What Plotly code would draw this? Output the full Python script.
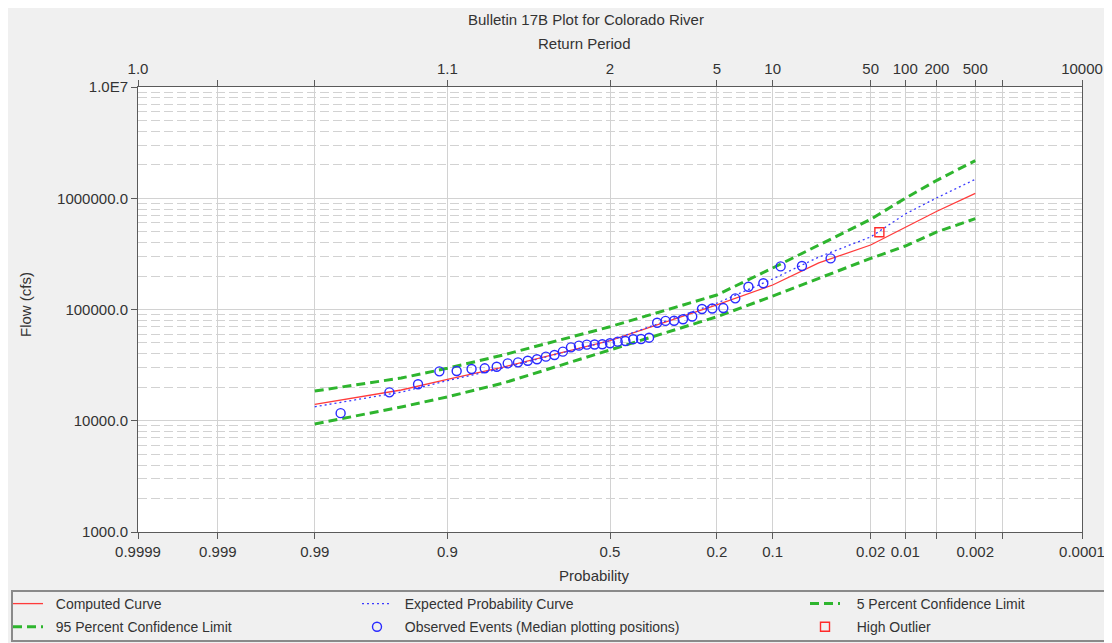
import plotly.graph_objects as go
from statistics import NormalDist

# ---------------- data ----------------
curve_prob = [0.99, 0.95, 0.9, 0.8, 0.5, 0.2, 0.1, 0.05, 0.02, 0.01, 0.005, 0.002]
computed_flow = [14060, 18900, 23600, 30400, 52500, 110000, 166000, 262000, 380000, 548000, 764000, 1107000]
expected_flow = [13360, 18100, 22900, 29800, 52500, 114000, 188000, 296000, 449000, 721000, 1010000, 1480000]
conf5_flow = [18500, 24200, 29600, 39000, 70000, 135000, 236000, 380000, 647000, 1000000, 1450000, 2180000]
conf95_flow = [9350, 13300, 16400, 21800, 43300, 86000, 132000, 192000, 288000, 372000, 498000, 655000]

obs_prob = [0.0411, 0.0652, 0.0894, 0.1135, 0.1377, 0.1618, 0.1860, 0.2101, 0.2343, 0.2585,
            0.2826, 0.3068, 0.3309, 0.3551, 0.3792, 0.4034, 0.4275, 0.4517, 0.4758, 0.5000,
            0.5242, 0.5483, 0.5725, 0.5966, 0.6208, 0.6449, 0.6691, 0.6932, 0.7174, 0.7415,
            0.7657, 0.7899, 0.8140, 0.8382, 0.8623, 0.8865, 0.9106, 0.9348, 0.9589, 0.9831]
obs_flow = [288000, 246000, 244000, 172000, 160000, 126000, 103000, 102000, 101000, 86500,
            81700, 79300, 79000, 76100, 55800, 54300, 54100, 52100, 51400, 49700,
            48700, 48500, 48300, 47300, 45700, 41800, 39000, 37700, 35700, 34600,
            33500, 32800, 30600, 29600, 29200, 28000, 27800, 21300, 18000, 11700]

outlier_prob = [0.0169]
outlier_flow = [495000]

xtick_prob = [0.9999, 0.999, 0.99, 0.9, 0.5, 0.2, 0.1, 0.02, 0.01, 0.005, 0.002, 0.001, 0.0001]
xtick_bottom = ["0.9999", "0.999", "0.99", "0.9", "0.5", "0.2", "0.1", "0.02", "0.01", "", "0.002", "", "0.0001"]
xtick_top = ["1.0", "", "", "1.1", "2", "5", "10", "50", "100", "200", "500", "", "10000"]

ytick_vals = [1e3, 1e4, 1e5, 1e6, 1e7]
ytick_text = ["1000.0", "10000.0", "100000.0", "1000000.0", "1.0E7"]
ytick_minor = [k * 10 ** d for d in range(3, 7) for k in range(2, 10)]

# ---------------- helpers ----------------
nd = NormalDist()


def zpos(p):
    return nd.inv_cdf(1 - p)


OFF = 8                      # page body margin in the browser
W, H = 1112 - OFF, 643 - OFF
L, R, T, B = 138 - OFF, 1082 - OFF, 87 - OFF, 532 - OFF


def PX(px):                  # screen x -> paper x
    return (px - OFF - L) / (R - L)


def PY(py):                  # screen y -> paper y
    return (B - (py - OFF)) / (B - T)


FONT = "Liberation Sans, Arial, sans-serif"
TXT = "#333333"
GRID = "#d2d2d2"
AXIS = "#5a5a5a"
GREEN = "#2eb52e"
NB = "\u00a0"

fig = go.Figure()

fig.add_trace(go.Scatter(x=[zpos(p) for p in curve_prob], y=computed_flow, mode="lines",
                         name=NB * 2 + "Computed Curve", line=dict(color="#ff3b3b", width=1.3),
                         legend="legend", legendgroup="a"))
fig.add_trace(go.Scatter(x=[zpos(p) for p in curve_prob], y=expected_flow, mode="lines",
                         name=NB * 2 + "Expected Probability Curve",
                         line=dict(color="#3a3aff", width=1.3, dash="2px,3px"),
                         legend="legend2", legendgroup="b"))
fig.add_trace(go.Scatter(x=[zpos(p) for p in curve_prob], y=conf5_flow, mode="lines",
                         name=NB * 3 + "5 Percent Confidence Limit",
                         line=dict(color=GREEN, width=3, dash="9px,5px"),
                         legend="legend3", legendgroup="c"))
fig.add_trace(go.Scatter(x=[zpos(p) for p in curve_prob], y=conf95_flow, mode="lines",
                         name=NB * 2 + "95 Percent Confidence Limit",
                         line=dict(color=GREEN, width=3, dash="9px,5px"),
                         legend="legend", legendgroup="d"))
fig.add_trace(go.Scatter(x=[zpos(p) for p in obs_prob], y=obs_flow, mode="markers",
                         name=NB * 2 + "Observed Events (Median plotting positions)",
                         marker=dict(symbol="circle-open", size=9, color="#2a2aff",
                                     line=dict(width=1.4)),
                         legend="legend2", legendgroup="e"))
fig.add_trace(go.Scatter(x=[zpos(p) for p in outlier_prob], y=outlier_flow, mode="markers",
                         name=NB * 3 + "High Outlier",
                         marker=dict(symbol="square-open", size=9, color="#ff2a2a",
                                     line=dict(width=1.4)),
                         legend="legend3", legendgroup="f"))
# invisible trace so the top (return period) axis is drawn
fig.add_trace(go.Scatter(x=[zpos(0.5)], y=[1e5], xaxis="x2", mode="markers",
                         marker=dict(opacity=0), showlegend=False, hoverinfo="skip"))

xr = [zpos(0.9999), zpos(0.0001)]
tickx = [zpos(p) for p in xtick_prob]


def leg(px):
    return dict(x=PX(px), y=PY(643), xanchor="left", yanchor="bottom",
                bgcolor="rgba(0,0,0,0)", borderwidth=0, tracegroupgap=2,
                font=dict(size=14, color=TXT, family=FONT))


fig.update_layout(
    width=W, height=H, autosize=False,
    margin=dict(l=L, r=W - R, t=T, b=H - B, pad=0, autoexpand=False),
    paper_bgcolor="#f0f0f0", plot_bgcolor="white",
    font=dict(family=FONT, size=15, color=TXT),
    xaxis=dict(range=xr, tickmode="array", tickvals=tickx, ticktext=xtick_bottom,
               showgrid=True, gridcolor=GRID, gridwidth=1, zeroline=False,
               showline=True, linecolor=AXIS, linewidth=1, mirror=True,
               ticks="outside", ticklen=6, tickcolor=AXIS, tickwidth=1,
               tickfont=dict(size=15, color=TXT, family=FONT)),
    xaxis2=dict(range=xr, overlaying="x", side="top", tickmode="array", tickvals=tickx,
                ticktext=xtick_top, showgrid=False, zeroline=False, showline=False,
                ticks="outside", ticklen=6, tickcolor=AXIS, tickwidth=1,
                tickfont=dict(size=15, color=TXT, family=FONT)),
    yaxis=dict(type="log", range=[3, 7], tickmode="array", tickvals=ytick_vals,
               ticktext=ytick_text, showgrid=True, gridcolor=GRID, gridwidth=1,
               zeroline=False, showline=True, linecolor=AXIS, linewidth=1, mirror=True,
               ticks="outside", ticklen=6, tickcolor=AXIS, tickwidth=1,
               tickfont=dict(size=15, color=TXT, family=FONT),
               minor=dict(tickmode="array", tickvals=ytick_minor, showgrid=True,
                          gridcolor=GRID, gridwidth=1, griddash="9px,4px", ticks="")),
    legend=leg(8),
    legend2=leg(357),
    legend3=leg(805),
    showlegend=True,
)

fig.add_shape(type="rect", xref="paper", yref="paper", layer="above",
              x0=PX(12), x1=PX(1108), y0=PY(641), y1=PY(591), fillcolor="rgba(0,0,0,0)",
              line=dict(color="#8a8a8a", width=2))

annots = [
    ("Bulletin 17B Plot for Colorado River", 586, 19, 0),
    ("Return Period", 584, 44, 0),
    ("Probability", 594, 575, 0),
    ("Flow (cfs)", 25, 305, -90),
]
for text, px, py, ang in annots:
    fig.add_annotation(text=text, x=PX(px), y=PY(py), xref="paper", yref="paper",
                       showarrow=False, textangle=ang, xanchor="center", yanchor="middle",
                       font=dict(size=15, color=TXT, family=FONT))

fig.write_html("out.html")
